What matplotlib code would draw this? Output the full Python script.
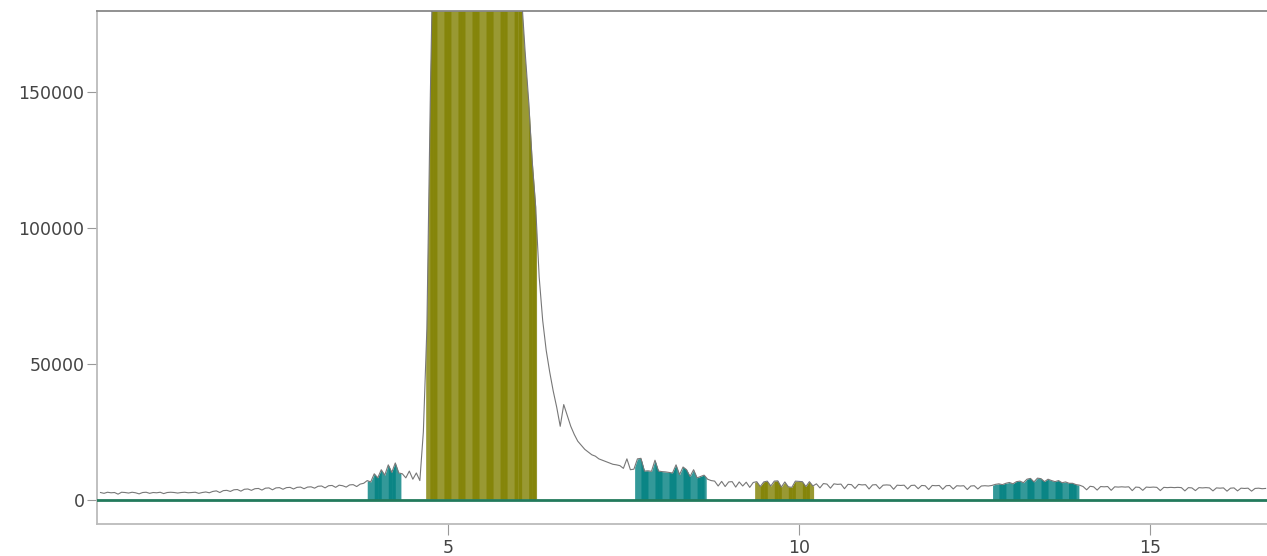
import numpy as np
import matplotlib
matplotlib.use("Agg")
import matplotlib.pyplot as plt

# Sampled trace, values in thousands of counts, step 0.05 min
step = 0.05
seg_a_start, seg_a = 0.05, [2.6,2.3,2.7,2.5,2.6,2.0,2.7,2.6,2.4,2.7,
                             2.5,2.1,2.6,2.7,2.3,2.6,2.5,2.7,2.2,2.6,
                             2.7,2.6,2.4,2.6,2.7,2.5,2.6,2.7,2.3,2.6]
seg_b = [2.8,2.5,3.0,3.2,2.6,3.3,3.4,3.0,3.6,3.7,
         3.1,3.8,3.9,3.4,4.0,4.1,3.5,4.2,4.3,3.6,
         4.3,4.4,3.8,4.4,4.5,3.9,4.5,4.6,4.0,4.6]
seg_c = [4.7,4.2,4.9,5.0,4.3,5.1,5.2,4.5,5.3,5.1,4.6,5.4,5.5,4.8,5.7,6.0]
seg_d = [7.0,6.5,9.5,8.0,11.0,9.0,12.8,10.0,13.5,9.8]
seg_e = [9.5,8.0,10.5,7.5,9.8,7.0]
seg_f = [25,63,150,220]
seg_g = [260,300,340,380,420,450,470,480,490,495,
         490,480,470,455,440,420,400,375,345,310,
         280,250,225,200,185]
seg_h = [165,147,125,108,82,66,55,47,40,34,27,35,31,27,24,21.5,20,18.5,
         17.5,16.5,16,15,14.5,14,13.5,13,12.8,12.5]
seg_i = [11.5,15.0,11.0,11.2,15.0,15.2,10.5,10.6,10.4,14.5,10.5,10.3,10.2,
         10.0,9.8,12.8,9.2,12.0,11.0,8.5,11.0,8.0,8.5,9.0,7.5]
seg_j = [7.0,6.8,5.0,6.7,4.8,6.5,6.6,4.6,6.5,5.0,6.4,4.5,6.3]
seg_k = [6.6,4.8,6.5,6.8,5.0,6.8,6.9,4.6,6.5,4.7,4.5,6.8,6.7,6.6,4.8,6.6,5.0]
seg_l = [5.8,4.3,5.9,5.7,4.2,5.8,5.6,5.7,4.0,5.6,5.5,4.1,5.6,5.4,5.5,3.9,5.4,
         5.5,4.0,5.3,5.4,5.3,3.8,5.3,5.2,5.3,3.9,5.2,5.3,4.0,5.2,5.1,3.7,5.2,
         5.1,5.2,3.8,5.1,5.2,3.9,5.1,5.0,5.1,3.7,5.0,5.1,3.9,5.0,5.1,5.0,5.2]
seg_m = [5.6,5.8,5.5,6.0,6.3,5.8,6.6,6.8,6.2,7.5,7.8,6.5,7.9,7.7,6.6,7.5,
         7.0,6.6,7.0,6.2,6.5,6.0,6.0,5.5]
seg_n = [5.3,4.8,3.6,4.9,4.7,3.5,4.8,4.7,4.8,3.4,4.7,4.6,4.7,4.6,4.7,3.3,4.6,
         4.5,3.4,4.6,4.5,4.6,4.5,3.3,4.5,4.4,4.5,4.4,4.5,4.4,3.2,4.4,4.3,3.3,
         4.4,4.3,4.4,4.3,3.2,4.3,4.2,4.3,3.1,4.2,4.3,3.2,4.2,4.1,4.2,3.1,4.1,
         4.2,4.0,4.1]

intensity_k = (seg_a + seg_b + seg_c + seg_d + seg_e + seg_f + seg_g + seg_h +
               seg_i + seg_j + seg_k + seg_l + seg_m + seg_n)
intensity = np.array(intensity_k) * 1000.0
times = seg_a_start + step * np.arange(len(intensity))

# Integrated peak regions (start, end, colour)
region_starts = [3.85, 4.69, 7.66, 9.37, 12.76]
region_ends = [4.33, 6.27, 8.68, 10.21, 13.99]
region_colors = ["#008080", "#808000", "#008080", "#808000", "#008080"]

x_ticks = [5, 10, 15]
y_ticks = [0, 50000, 100000, 150000]

fig = plt.figure(figsize=(12.67, 5.56), dpi=100)
ax = fig.add_axes([97/1267, 1 - 524/556, 1 - 97/1267, (524 - 11)/556])

ax.plot(times, intensity, color="#777777", lw=0.8, zorder=3)

for s, e, c in zip(region_starts, region_ends, region_colors):
    inner = times[(times > s) & (times < e)]
    xs = np.concatenate([[s], inner, [e]])
    ys = np.interp(xs, times, intensity)
    # light base fill over the whole region
    ax.fill_between(xs, 0, ys, color=c, alpha=0.8, lw=0, zorder=2)
    # darker overlapping bands
    for k in range(len(xs) - 1):
        if (k // 2) % 2 == 1:
            ax.fill_between(xs[k:k+2], 0, ys[k:k+2], color=c, alpha=0.8,
                            lw=0, zorder=2.1)

ax.axhline(0, color="#227a5c", lw=2, zorder=4)

ax.set_xlim(0, 16.67)
ax.set_ylim(-9000, 180000)
ax.set_xticks(x_ticks)
ax.set_yticks(y_ticks)
ax.set_xticklabels([str(t) for t in x_ticks])
ax.set_yticklabels([str(t) for t in y_ticks])

ax.spines["right"].set_visible(False)
ax.spines["top"].set_color("#888888")
ax.spines["top"].set_linewidth(1.3)
ax.spines["left"].set_color("#bbbbbb")
ax.spines["bottom"].set_color("#bbbbbb")
ax.spines["left"].set_linewidth(1.3)
ax.spines["bottom"].set_linewidth(1.3)

ax.tick_params(axis="y", length=7, pad=2, color="#999999",
               labelcolor="#444444", labelsize=12.5)
ax.tick_params(axis="x", length=8, pad=3, color="#999999",
               labelcolor="#444444", labelsize=12.5)

fig.savefig("out.png", dpi=100)
